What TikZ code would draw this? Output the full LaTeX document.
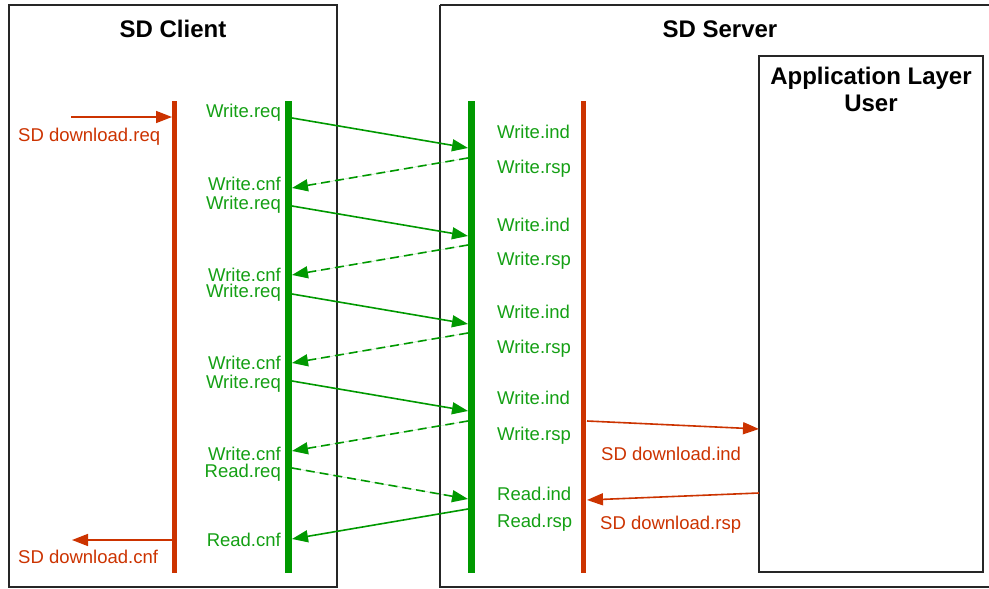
\documentclass[tikz,border=0pt]{standalone}
\usepackage{fontspec}
\setmainfont{Liberation Sans}
\usetikzlibrary{arrows.meta}
\definecolor{sdred}{RGB}{204,51,0}
\definecolor{sdgreen}{RGB}{0,153,0}
\definecolor{sdtext}{RGB}{20,160,20}
\begin{document}
\begin{tikzpicture}[x=1pt,y=-1pt,
  frame/.style={draw=black!85,line width=2pt},
  title/.style={font=\fontsize{24}{26}\selectfont\bfseries,inner sep=0pt},
  redlife/.style={draw=sdred,line width=5.5pt},
  greenlife/.style={draw=sdgreen,line width=6.5pt},
  msg/.style={line width=1.6pt,-{Triangle[length=16pt,width=12pt]}},
  greenmsg/.style={msg,draw=sdgreen,fill=sdgreen},
  redmsg/.style={msg,draw=sdred,fill=sdred},
  dashmsg/.style={greenmsg,dash pattern=on 9pt off 5pt},
  lab/.style={font=\fontsize{18.5}{20}\selectfont,inner sep=0pt,text height=13.3pt,text depth=0pt},
  glabl/.style={lab,text=sdtext,anchor=east},
  glabr/.style={lab,text=sdtext,anchor=west},
  rlab/.style={lab,text=sdred,anchor=west}]
\useasboundingbox (0,0) rectangle (989,589);
\fill[white] (0,0) rectangle (989,589);

% frames
\draw[frame] (9,5) rectangle (337,587);
\draw[frame] (440,5) -- (995,5);
\draw[frame] (440,5) -- (440,587) -- (995,587);
\draw[frame] (759,56) rectangle (983,572);
\node[title] (client) at (173,29) {SD Client};
\node[title] (server) at (720,29) {SD Server};
\node[title,align=center] (app) at (871,89) {Application Layer\\[1pt]User};

% lifelines
\coordinate (rc1) at (174.5,101); \coordinate (rc2) at (174.5,573);
\coordinate (gc1) at (288.5,101); \coordinate (gc2) at (288.5,573);
\coordinate (gs1) at (471.5,101); \coordinate (gs2) at (471.5,573);
\coordinate (rs1) at (583.5,101); \coordinate (rs2) at (583.5,573);
\draw[redlife] (rc1) -- (rc2);
\draw[greenlife] (gc1) -- (gc2);
\draw[greenlife] (gs1) -- (gs2);
\draw[redlife] (rs1) -- (rs2);

% service primitives at the client side
\coordinate (dreqS) at (71,117);   \coordinate (dreqE) at (172,117);
\coordinate (dcnfS) at (172,540);  \coordinate (dcnfE) at (72,540);
\draw[redmsg] (dreqS) -- (dreqE);
\draw[redmsg] (dcnfS) -- (dcnfE);
\node[rlab] (dreq) at (18,135) {SD download.req};
\node[rlab] (dcnf) at (18,557) {SD download.cnf};

% message exchange between client and server
\foreach \n/\a/\b in {1/118/148,2/206/236,3/294/324,4/381/411}{
  \coordinate (wq\n) at (292,\a); \coordinate (wi\n) at (468,\b);
  \draw[greenmsg] (wq\n) -- (wi\n);
}
\foreach \n/\a/\b in {1/158/188,2/245/275,3/333/363,4/421/451}{
  \coordinate (wr\n) at (468,\a); \coordinate (wc\n) at (292,\b);
  \draw[dashmsg] (wr\n) -- (wc\n);
}
\coordinate (rq) at (292,468); \coordinate (ri) at (468,499);
\coordinate (rr) at (468,509); \coordinate (rc) at (292,539);
\draw[dashmsg] (rq) -- (ri);
\draw[greenmsg] (rr) -- (rc);

% labels at the client
\node[glabl] (l1) at (281,111) {Write.req};
\node[glabl] (l2) at (281,184) {Write.cnf};
\node[glabl] (l3) at (281,203) {Write.req};
\node[glabl] (l4) at (281,275) {Write.cnf};
\node[glabl] (l5) at (281,291) {Write.req};
\node[glabl] (l6) at (281,363) {Write.cnf};
\node[glabl] (l7) at (281,382) {Write.req};
\node[glabl] (l8) at (281,454) {Write.cnf};
\node[glabl] (l9) at (281,471) {Read.req};
\node[glabl] (l10) at (281,540) {Read.cnf};

% labels at the server
\node[glabr] (s1) at (497,132) {Write.ind};
\node[glabr] (s2) at (497,167) {Write.rsp};
\node[glabr] (s3) at (497,225) {Write.ind};
\node[glabr] (s4) at (497,259) {Write.rsp};
\node[glabr] (s5) at (497,312) {Write.ind};
\node[glabr] (s6) at (497,347) {Write.rsp};
\node[glabr] (s7) at (497,398) {Write.ind};
\node[glabr] (s8) at (497,434) {Write.rsp};
\node[glabr] (s9) at (497,494) {Read.ind};
\node[glabr] (s10) at (497,521) {Read.rsp};

% service primitives towards the application layer
\coordinate (dindS) at (587,421); \coordinate (dindE) at (759,429);
\coordinate (drspS) at (759,493); \coordinate (drspE) at (587,500);
\draw[redmsg] (dindS) -- (dindE);
\draw[redmsg] (drspS) -- (drspE);
\node[rlab] (dind) at (601,454) {SD download.ind};
\node[rlab] (drsp) at (600,523) {SD download.rsp};
\end{tikzpicture}
\end{document}
